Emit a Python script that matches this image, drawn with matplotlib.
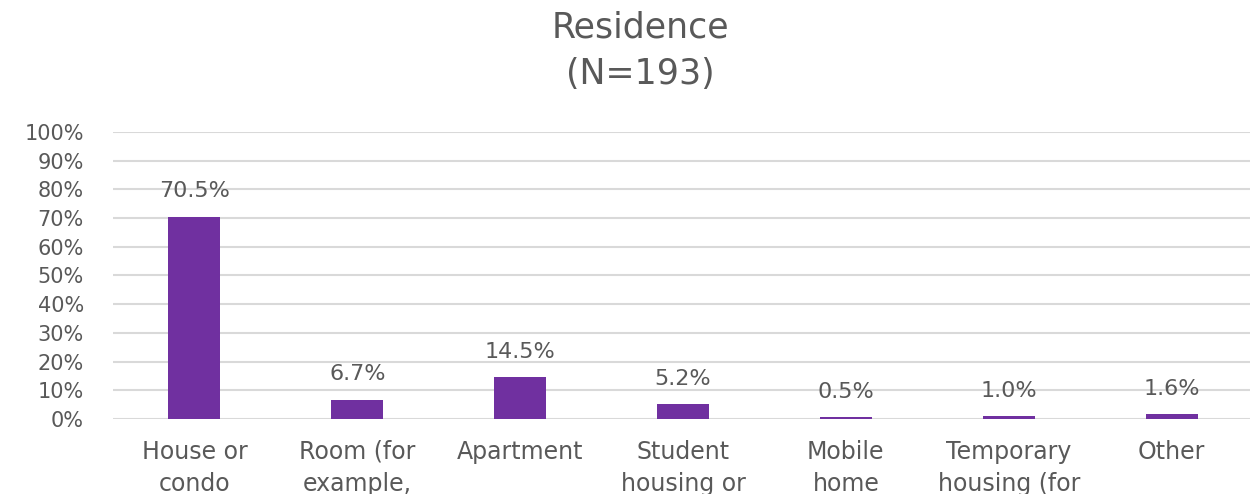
import matplotlib.pyplot as plt
from matplotlib.ticker import PercentFormatter

categories = ["House or\ncondo", "Room (for\nexample,", "Apartment", "Student\nhousing or",
              "Mobile\nhome", "Temporary\nhousing (for", "Other"]
values = [70.5, 6.7, 14.5, 5.2, 0.5, 1.0, 1.6]
bar_labels = ["70.5%", "6.7%", "14.5%", "5.2%", "0.5%", "1.0%", "1.6%"]

plt.rcParams['font.family'] = ['DejaVu Sans']
text_color = "#595959"

fig = plt.figure(figsize=(12.5, 4.94), dpi=100)
ax = fig.add_axes([0.0904, 0.152, 0.912, 0.581])

x = range(len(categories))
bars = ax.bar(x, values, width=0.32, color="#7030A0", zorder=3)
for rect, lab in zip(bars, bar_labels):
    ax.annotate(lab, (rect.get_x() + rect.get_width() / 2, rect.get_height()),
                xytext=(0, 11), textcoords="offset points", ha="center", va="bottom",
                fontsize=16, color=text_color)

ax.set_xlim(-0.5, len(categories) - 0.5)
ax.set_ylim(0, 100)
ax.set_yticks(range(0, 101, 10))
ax.yaxis.set_major_formatter(PercentFormatter(decimals=0))
ax.set_xticks(list(x))
ax.set_xticklabels(categories, fontsize=17, color=text_color, linespacing=1.45, va="top")
ax.tick_params(axis="y", labelsize=15, colors=text_color, length=0, pad=21)
ax.tick_params(axis="x", length=0, pad=15)
ax.grid(axis="y", color="#D9D9D9", linewidth=1.5, zorder=0)
for s in ax.spines.values():
    s.set_visible(False)

fig.suptitle("Residence\n(N=193)", x=0.512, y=0.978, fontsize=25, color=text_color, linespacing=1.45)

fig.savefig("out.png", dpi=100)
